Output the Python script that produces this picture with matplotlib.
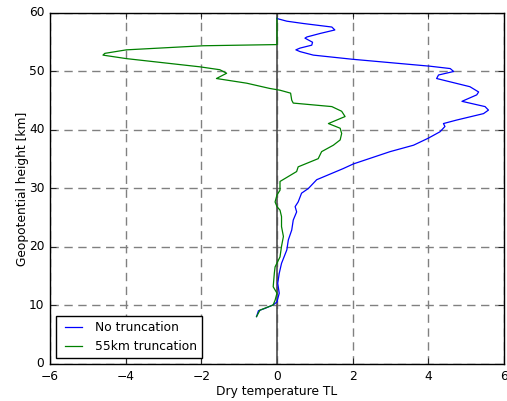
import matplotlib
matplotlib.use("Agg")
import matplotlib.pyplot as plt

plt.style.use("classic")

blue_x = [-0.54, -0.49, -0.32, -0.10, 0.00, 0.06, 0.02, 0.06, 0.12, 0.26, 0.30, 0.39, 0.43, 0.52, 0.48,
          0.56, 0.65, 0.83, 1.05, 1.75, 2.02, 2.99, 3.61, 4.00, 4.31, 4.44, 4.40, 4.75, 5.46, 5.59,
          5.50, 4.89, 5.28, 5.33, 5.10, 4.22, 4.27, 4.67, 4.58, 4.05, 1.98, 0.96, 0.61, 0.50, 0.61,
          0.92, 0.94, 0.74, 0.79, 1.14, 1.53, 1.45, 0.70, 0.26, 0.03, 0.00]
blue_y = [8.1, 9.1, 9.5, 10.1, 10.6, 12.1, 13.8, 15.5, 17.2, 19.5, 21.2, 22.9, 24.6, 26.0, 26.9,
          27.7, 29.2, 30.0, 31.5, 33.4, 34.2, 36.3, 37.4, 38.6, 39.7, 40.6, 41.1, 41.7, 42.8, 43.4,
          44.0, 44.9, 46.0, 46.5, 47.4, 48.8, 49.4, 50.0, 50.5, 50.9, 52.1, 52.8, 53.4, 53.7, 54.0,
          54.5, 55.0, 55.7, 55.9, 56.5, 57.1, 57.6, 58.2, 58.6, 59.0, 59.1]

green_x = [-0.54, -0.45, -0.10, -0.05, 0.00, -0.10, -0.07, -0.05, 0.08, 0.12, 0.17, 0.12, 0.12, 0.08,
           0.00, -0.05, 0.00, 0.08, 0.08, 0.52, 0.56, 1.09, 1.18, 1.49, 1.67, 1.71, 1.67, 1.36, 1.80,
           1.71, 1.45, 0.43, 0.39, 0.36, 0.08, -0.19, -0.80, -1.60, -1.33, -1.51, -2.04, -3.98, -4.60,
           -4.55, -3.98, -1.95, 0.00, 0.00]
green_y = [8.1, 9.2, 10.1, 10.9, 12.1, 13.2, 15.5, 16.6, 18.3, 20.1, 21.8, 23.5, 25.2, 26.3,
           26.9, 27.7, 28.9, 29.7, 31.2, 32.9, 33.7, 35.1, 36.3, 37.4, 38.3, 39.4, 40.3, 41.1, 42.3,
           43.2, 44.0, 44.6, 45.1, 46.3, 46.8, 47.1, 48.0, 48.8, 49.7, 50.3, 50.8, 52.2, 52.8,
           53.1, 53.7, 54.4, 54.6, 59.1]

labels = ["No truncation", "55km truncation"]
xlabel = "Dry temperature TL"
ylabel = "Geopotential height [km]"

fs = 8.8
fig = plt.figure(figsize=(5.07, 4.01), dpi=100, facecolor="white")
ax = fig.add_axes([0.0986, 0.0923, 0.8954, 0.8753])
ax.axvline(0, color="0.3", linewidth=1.2, zorder=1)
ax.plot(blue_x, blue_y, color="blue", linewidth=0.9, label=labels[0], zorder=3)
ax.plot(green_x, green_y, color="green", linewidth=0.9, label=labels[1], zorder=3)
ax.set_xlim(-6, 6)
ax.set_ylim(0, 60)
ax.set_xticks([-6, -4, -2, 0, 2, 4, 6])
ax.set_yticks([0, 10, 20, 30, 40, 50, 60])
ax.grid(True, color="0.5", linestyle="--", linewidth=1.0, dashes=(6, 4))
ax.set_axisbelow(True)
ax.tick_params(labelsize=fs)
ax.set_xlabel(xlabel, fontsize=fs, labelpad=2)
ax.set_ylabel(ylabel, fontsize=fs, labelpad=0)
ax.legend(loc="lower left", fontsize=fs, frameon=True, handlelength=2.0)
fig.savefig("out.png", dpi=100, facecolor="white")
